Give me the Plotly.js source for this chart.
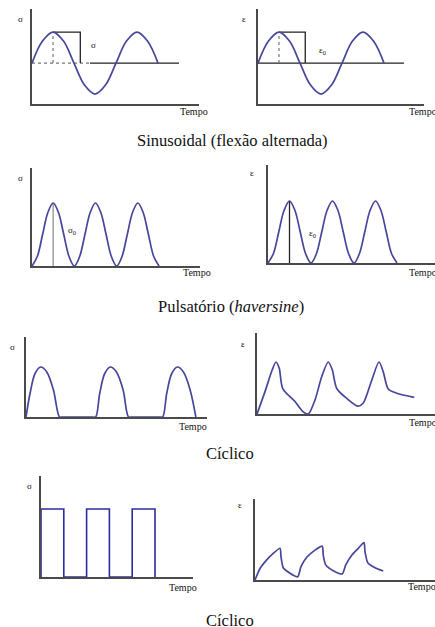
<!DOCTYPE html>
<html>
<head>
<meta charset="utf-8">
<script src="https://cdn.plot.ly/plotly-3.0.1.min.js"></script>
<style>
  html, body { margin: 0; padding: 0; background: #fff; }
  #chart { width: 435px; height: 627px; }
</style>
</head>
<body>
<div id="chart"></div>
<script>
// ---- loading histories (time in arbitrary units, amplitude normalised) ----

// Sinusoidal (alternating bending): stress and strain share the same shape
const sineT = [0, 0.5, 1, 1.5, 2, 2.5, 3, 3.5, 4, 4.5, 5, 5.5, 6];
const sineV = [0, 0.71, 1, 0.71, 0, -0.71, -1, -0.71, 0, 0.71, 1, 0.71, 0];

// amplitude markers on the sinusoidal panels
const peakMarkT = [1, 1];
const peakMarkV = [0, 1];
const boxV = [1, 1, 0];
const stressBoxT = [1, 2.3, 2.3];
const strainBoxT = [1, 2.25, 2.25];
const stressZeroDotT = [0, 2.76];
const stressZeroT = [2.76, 7.0];
const strainZeroT = [0, 6.95];
const zeroV = [0, 0];

// Pulsating (haversine)
const haverT = [0, 0.25, 0.5, 0.75, 1, 1.25, 1.5, 1.75, 2, 2.25, 2.5, 2.75, 3,
                3.25, 3.5, 3.75, 4, 4.25, 4.5, 4.75, 5, 5.25, 5.5, 5.75, 6];
const haverV = [0, 0.15, 0.5, 0.85, 1, 0.85, 0.5, 0.15, 0, 0.15, 0.5, 0.85, 1,
                0.85, 0.5, 0.15, 0, 0.15, 0.5, 0.85, 1, 0.85, 0.5, 0.15, 0];

// Cyclic stress: pulses separated by rest periods
const cycStressT = [0, 0.12, 0.27, 0.44, 0.62, 0.82, 1.0, 1.1, 1.98,
                    2.08, 2.2, 2.35, 2.52, 2.7, 2.9, 3.06, 3.16, 3.98,
                    4.08, 4.2, 4.35, 4.52, 4.7, 4.9, 5.07];
const cycStressV = [0, 0.47, 0.87, 1, 0.9, 0.54, 0, 0, 0,
                    0, 0.47, 0.87, 1, 0.9, 0.54, 0, 0, 0,
                    0, 0.47, 0.87, 1, 0.9, 0.54, 0];

// Cyclic strain response
const cycStrainT = [0, 0.32, 0.61, 0.76, 0.89, 1.03, 1.52, 1.85, 2.05, 2.32, 2.59, 2.85,
                    3.01, 3.19, 3.59, 4.05, 4.25, 4.59, 4.88, 5.05, 5.25, 5.59, 6.29];
const cycStrainV = [0, 0.43, 0.85, 1.0, 0.88, 0.49, 0.24, 0.04, 0, 0.27, 0.72, 1.0,
                    0.85, 0.49, 0.30, 0.15, 0.21, 0.65, 1.0, 0.81, 0.48, 0.40, 0.32];

// Cyclic square-wave stress
const squareT = [0, 0, 1, 2, 3, 4, 5];
const squareV = [0, 1, 0, 1, 0, 1, 0];

// Creep / recovery strain under the square-wave stress
const creepT = [0, 0.2, 0.47, 0.73, 1.0, 1.04, 1.13, 1.4, 1.71, 1.84, 2.07, 2.4, 2.69,
                2.73, 2.83, 3.13, 3.49, 3.63, 3.87, 4.13, 4.36, 4.4, 4.51, 4.8, 5.13];
const creepV = [0, 0.32, 0.56, 0.74, 0.88, 0.65, 0.34, 0.19, 0.09, 0.37, 0.63, 0.83, 0.94,
                0.69, 0.42, 0.26, 0.17, 0.42, 0.69, 0.88, 1.04, 0.79, 0.48, 0.34, 0.25];

const captions = ['Sinusoidal (flexão alternada)', 'Pulsatório (<i>haversine</i>)', 'Cíclico', 'Cíclico'];
const timeLabel = 'Tempo';

// ---- layout helpers ----
const W = 435, H = 627;
const CURVE = '#46469a';
const SERIF = '"Liberation Serif", "Times New Roman", serif';

const layout = {
  width: W, height: H,
  margin: {l: 0, r: 0, t: 0, b: 0},
  paper_bgcolor: '#fff', plot_bgcolor: 'rgba(0,0,0,0)',
  showlegend: false,
  annotations: []
};
const traces = [];

const axisStyle = {
  showline: true, linecolor: '#4a4a4a', linewidth: 1.6,
  showgrid: false, zeroline: false, ticks: '', showticklabels: false,
  fixedrange: true
};

// box = [left, right, top, bottom] in pixels, sx/sy = pixels per unit, y0 = value at the bottom
function panel(n, box, sx, sy, y0) {
  const s = n === 1 ? '' : String(n);
  layout['xaxis' + s] = Object.assign({}, axisStyle, {
    domain: [box[0] / W, box[1] / W],
    range: [0, (box[1] - box[0]) / sx],
    anchor: 'y' + s
  });
  layout['yaxis' + s] = Object.assign({}, axisStyle, {
    domain: [1 - box[3] / H, 1 - box[2] / H],
    range: [y0, y0 + (box[3] - box[2]) / sy],
    anchor: 'x' + s
  });
  return s;
}

function line(s, x, y, style, shape, smoothing) {
  const ln = Object.assign({}, style);
  if (shape) ln.shape = shape;
  if (smoothing !== undefined) ln.smoothing = smoothing;
  traces.push({x: x, y: y, xaxis: 'x' + s, yaxis: 'y' + s, mode: 'lines',
               line: ln, hoverinfo: 'skip'});
}

function label(px, py, text, size, anchor) {
  layout.annotations.push({
    xref: 'paper', yref: 'paper', x: px / W, y: 1 - py / H,
    xanchor: anchor || 'center', yanchor: 'middle', showarrow: false,
    text: text, font: {family: SERIF, size: size, color: '#111'}
  });
}

const curve = {color: CURVE, width: 1.7};
const black = {color: '#222', width: 1.3};
const dotted = {color: '#777', width: 1.2, dash: 'dot'};

// 1: sinusoidal stress
let s = panel(1, [32, 199, 9, 104], 21, 31, -1.32);
line(s, stressZeroDotT, zeroV, dotted);
line(s, stressZeroT, zeroV, black);
line(s, peakMarkT, peakMarkV, dotted);
line(s, stressBoxT, boxV, black);
line(s, sineT, sineV, curve, 'spline', 1);
label(20, 19, 'σ', 9);
label(93, 45, 'σ', 9);
label(194, 112, timeLabel, 10);

// 2: sinusoidal strain
s = panel(2, [258, 424, 9, 104], 21, 31, -1.32);
line(s, strainZeroT, zeroV, black);
line(s, peakMarkT, peakMarkV, dotted);
line(s, strainBoxT, boxV, black);
line(s, sineT, sineV, curve, 'spline', 1);
label(244, 19, 'ε', 9);
label(322, 51, 'ε<sub>0</sub>', 9);
label(407, 112, timeLabel, 10, 'left');

// 3: haversine stress
s = panel(3, [32, 200, 168, 266], 21.17, 63, 0);
line(s, peakMarkT, peakMarkV, {color: '#999', width: 1.4});
line(s, haverT, haverV, curve, 'spline', 1);
label(20, 178, 'σ', 9);
label(72, 230, 'σ<sub>0</sub>', 9);
label(197, 273, timeLabel, 10);

// 4: haversine strain
s = panel(4, [268, 435, 165, 263], 21.5, 62, 0);
line(s, peakMarkT, peakMarkV, black);
line(s, haverT, haverV, curve, 'spline', 1);
label(252, 173, 'ε', 9);
label(312, 233, 'ε<sub>0</sub>', 9);
label(407, 273, timeLabel, 10, 'left');

// 5: cyclic stress pulses
s = panel(5, [26, 207, 337, 417], 33.5, 50, 0);
line(s, cycStressT, cycStressV, curve, 'spline', 0.9);
label(12, 347, 'σ', 9);
label(193, 426, timeLabel, 10);

// 6: cyclic strain
s = panel(6, [257, 435, 333, 414], 25, 52, 0);
line(s, cycStrainT, cycStrainV, curve, 'spline', 0.8);
label(243, 344, 'ε', 9);
label(407, 422, timeLabel, 10, 'left');

// 7: square-wave stress
s = panel(7, [41, 193, 476, 577], 22.8, 68, 0);
line(s, squareT, squareV, {color: '#2c2ca0', width: 1.6}, 'hv');
label(29, 486, 'σ', 9);
label(183, 587, timeLabel, 10);

// 8: creep and recovery strain
s = panel(8, [255, 435, 499, 580], 25, 36, 0);
line(s, creepT, creepV, curve, 'spline', 0.6);
label(240, 505, 'ε', 9);
label(406, 586, timeLabel, 10, 'left');

// section captions
label(232, 140, captions[0], 16.5);
label(231, 306, captions[1], 16.5);
label(230, 453, captions[2], 16.5);
label(230, 620, captions[3], 16.5);

Plotly.newPlot('chart', traces, layout, {staticPlot: true, displayModeBar: false});
</script>
</body>
</html>
